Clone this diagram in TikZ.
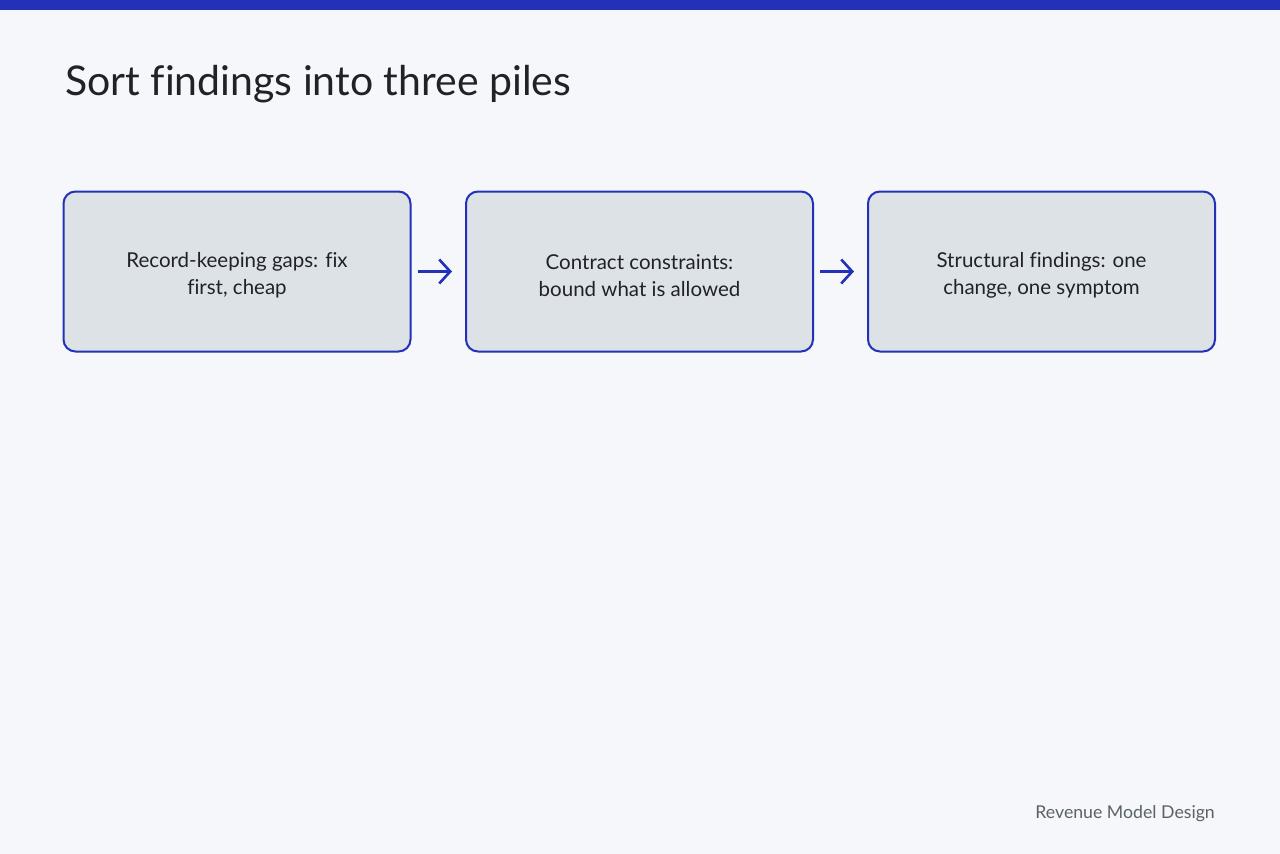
\documentclass[tikz,border=0pt]{standalone}
\usepackage{fontspec}
\setmainfont{Lato}[Ligatures={NoCommon}]
\usetikzlibrary{arrows.meta}
\definecolor{bg}{HTML}{F5F7FA}
\definecolor{accent}{HTML}{2330B8}
\definecolor{boxfill}{HTML}{DDE2E6}
\definecolor{ink}{HTML}{1F2328}
\definecolor{muted}{HTML}{5A6268}
\newcommand{\boxtext}[1]{\raisebox{-4pt}[\height][\depth]{\parbox{260pt}{\centering #1}}}
\tikzset{
  stepbox/.style={draw=accent, line width=2pt, fill=boxfill, rounded corners=12pt,
    minimum width=347pt, minimum height=160pt, inner sep=0pt,
    align=center, text=ink,
    font=\fontsize{20.5pt}{27pt}\selectfont},
  flow/.style={draw=accent, line width=2.6pt, -{Straight Barb[length=11pt,width=24pt,line width=2.6pt]},
    shorten <=6pt, shorten >=13pt}
}
\begin{document}
\begin{tikzpicture}[x=1pt,y=-1pt]
\useasboundingbox (0,0) rectangle (1280,854);
\fill[bg] (0,0) rectangle (1280,854);
\fill[accent] (0,0) rectangle (1280,10);
\node[anchor=base west, text=ink, font=\fontsize{41pt}{48pt}\selectfont, inner sep=0pt] (title) at (65,95) {Sort findings into three piles};
\node[stepbox] (b1) at (237,271.5) {\boxtext{Record-keeping gaps: fix\\first, cheap}};
\node[stepbox] (b2) at (639.5,271.5) {\boxtext{Contract constraints:\\bound what is allowed}};
\node[stepbox] (b3) at (1041.5,271.5) {\boxtext{Structural findings: one\\change, one symptom}};
\draw[flow] (b1.east) -- (b2.west);
\draw[flow] (b2.east) -- (b3.west);
\node[anchor=base east, text=muted, font=\fontsize{17.7pt}{22pt}\selectfont, inner sep=0pt] (footer) at (1215,818) {Revenue Model Design};
\end{tikzpicture}
\end{document}
